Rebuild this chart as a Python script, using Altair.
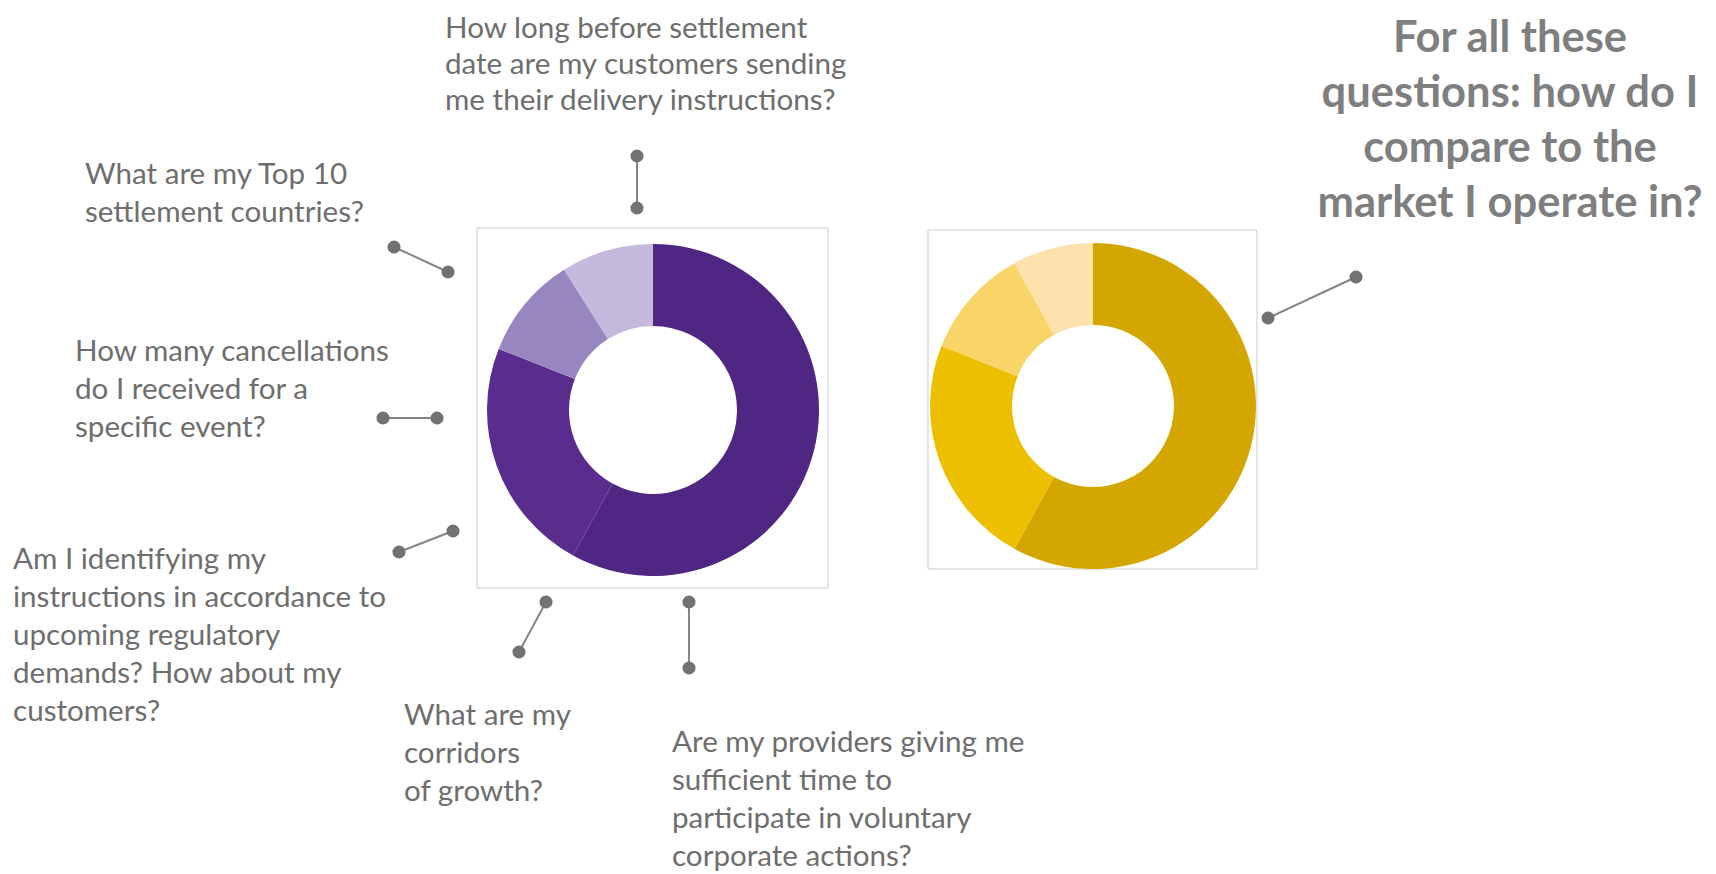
import altair as alt
import pandas as pd

# ---- data ----
segments = ["A", "B", "C", "D"]
my_values = [58, 23, 10, 9]
market_values = [58, 23, 11, 8]
purple_colors = ["#4f2681", "#5a2c8e", "#9886c1", "#c5b9dd"]
yellow_colors = ["#d3a600", "#ecbf00", "#f8d469", "#fde2ae"]

# donut centres / radii (page pixels)
donut_cx = [653, 1093]
donut_cy = [410, 406]

# frames around the donuts
box_x1 = [477, 928]
box_x2 = [828, 1257]
box_y1 = [228, 230]
box_y2 = [588, 569]

# connectors
con_x1 = [637, 394, 383, 399, 519, 689, 1268]
con_y1 = [156, 247, 418, 552, 652, 602, 318]
con_x2 = [637, 448, 437, 453, 546, 689, 1356]
con_y2 = [208, 272, 418, 531, 602, 668, 277]

# questions
questions = [
    "How long before settlement\ndate are my customers sending\nme their delivery instructions?",
    "What are my Top 10\nsettlement countries?",
    "How many cancellations\ndo I received for a\nspecific event?",
    "Am I identifying my\ninstructions in accordance to\nupcoming regulatory\ndemands? How about my\ncustomers?",
    "What are my\ncorridors\nof growth?",
    "Are my providers giving me\nsufficient time to\nparticipate in voluntary\ncorporate actions?",
]
q_x = [445, 85, 75, 13, 404, 672]
q_y = [38, 184, 361, 569, 725, 752]
q_line = [36, 38, 38, 38, 38, 38]

headline = "For all these\nquestions: how do I\ncompare to the\nmarket I operate in?"
headline_x = 1510
headline_y = 52

W, H = 1700, 866
xs = alt.Scale(domain=[8, 8 + W], zero=False, nice=False)
ys = alt.Scale(domain=[8, 8 + H], zero=False, nice=False, reverse=True)

def X(f):
    return alt.X(f, type="quantitative", scale=xs, axis=None)

def Y(f):
    return alt.Y(f, type="quantitative", scale=ys, axis=None)

boxes = pd.DataFrame({"x1": box_x1, "x2": box_x2, "y1": box_y1, "y2": box_y2})
box_layer = alt.Chart(boxes).mark_rect(fill="white", stroke="#cdcdcd", strokeWidth=1).encode(
    x=X("x1"), x2="x2", y=Y("y1"), y2="y2"
)

def donut(values, colors, cx, cy, r_in, r_out):
    df = pd.DataFrame({
        "seg": segments,
        "value": values,
        "col": colors,
        "idx": list(range(len(values))),
        "cx": [cx] * len(values),
        "cy": [cy] * len(values),
    })
    return alt.Chart(df).mark_arc(innerRadius=r_in, outerRadius=r_out).encode(
        theta=alt.Theta("value:Q", stack=True),
        color=alt.Color("col:N", scale=None),
        order=alt.Order("idx:Q"),
        x=X("cx"),
        y=Y("cy"),
    )

purple = donut(my_values, purple_colors, donut_cx[0], donut_cy[0], 84, 166)
yellow = donut(market_values, yellow_colors, donut_cx[1], donut_cy[1], 81, 163)

cons = pd.DataFrame({"x1": con_x1, "y1": con_y1, "x2": con_x2, "y2": con_y2})
rules = alt.Chart(cons).mark_rule(color="#858585", strokeWidth=2).encode(
    x=X("x1"), y=Y("y1"), x2="x2", y2="y2"
)
dots_df = pd.DataFrame({"x": con_x1 + con_x2, "y": con_y1 + con_y2})
dots = alt.Chart(dots_df).mark_circle(size=170, color="#727272", opacity=1).encode(
    x=X("x"), y=Y("y")
)

def question_layer(i):
    df = pd.DataFrame({"t": [questions[i]], "x": [q_x[i]], "y": [q_y[i]]})
    return alt.Chart(df).mark_text(
        align="left", baseline="alphabetic", lineBreak="\n", lineHeight=q_line[i],
        font="Lato", fontSize=29.6, color="#6e6e6e"
    ).encode(x=X("x"), y=Y("y"), text="t:N")

qlayers = [question_layer(i) for i in range(len(questions))]

hdf = pd.DataFrame({"t": [headline], "x": [headline_x], "y": [headline_y]})
htext = alt.Chart(hdf).mark_text(
    align="center", baseline="alphabetic", lineBreak="\n", lineHeight=55,
    font="Lato", fontSize=43.5, fontWeight="bold", color="#7f7f7f"
).encode(x=X("x"), y=Y("y"), text="t:N")

chart = alt.layer(box_layer, purple, yellow, rules, dots, *qlayers, htext).properties(
    width=W, height=H, padding=0, autosize=alt.AutoSizeParams(type="none")
).configure_view(stroke=None)

chart.save("out.html", embed_options={"renderer": "svg", "actions": False})
